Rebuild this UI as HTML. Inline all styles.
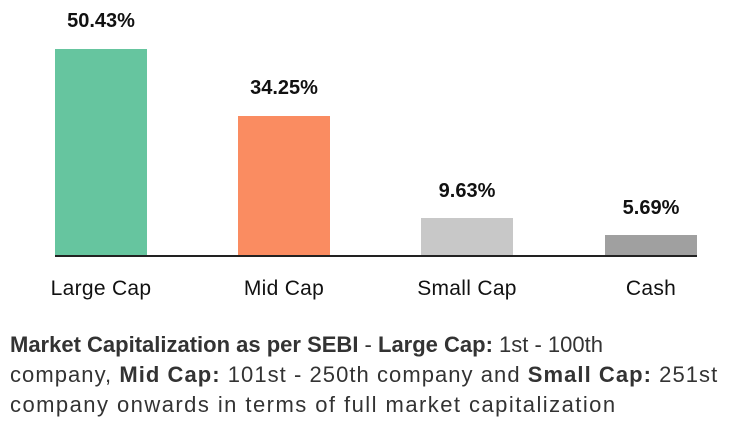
<!DOCTYPE html>
<html><head><style>
body{margin:0;width:738px;height:429px;background:#fff;font-family:"Liberation Sans",sans-serif;position:relative;overflow:hidden;color:#111}
.b{position:absolute;width:92px}
.v{position:absolute;width:140px;text-align:center;font-weight:bold;font-size:20px}
.l{position:absolute;width:180px;text-align:center;font-size:21px;top:277px;letter-spacing:0.3px}
.t{position:absolute;left:10px;top:330px;font-size:22px;line-height:30px;color:#333;width:730px;white-space:nowrap}
.t div{height:30px}
.t b{color:#333}
</style></head><body>
<div class="b" style="left:55px;top:49px;height:207px;background:#66c59f"></div>
<div class="b" style="left:238px;top:116px;height:140px;background:#fa8c61"></div>
<div class="b" style="left:421px;top:218px;height:38px;background:#c8c8c8"></div>
<div class="b" style="left:605px;top:235px;height:21px;background:#a0a0a0"></div>
<div style="position:absolute;left:55px;top:255px;width:642px;height:2px;background:#222"></div>
<div class="v" style="left:31px;top:10px">50.43%</div>
<div class="v" style="left:214px;top:77px">34.25%</div>
<div class="v" style="left:397px;top:180px">9.63%</div>
<div class="v" style="left:581px;top:197px">5.69%</div>
<div class="l" style="left:11px">Large Cap</div>
<div class="l" style="left:194px">Mid Cap</div>
<div class="l" style="left:377px">Small Cap</div>
<div class="l" style="left:561px">Cash</div>
<div class="t">
<div><b>Market Capitalization as per SEBI</b> - <b>Large Cap:</b> 1st - 100th</div>
<div style="letter-spacing:1.05px">company, <b>Mid Cap:</b> 101st - 250th company and <b>Small Cap:</b> 251st</div>
<div style="letter-spacing:1.45px">company onwards in terms of full market capitalization</div>
</div>
</body></html>
